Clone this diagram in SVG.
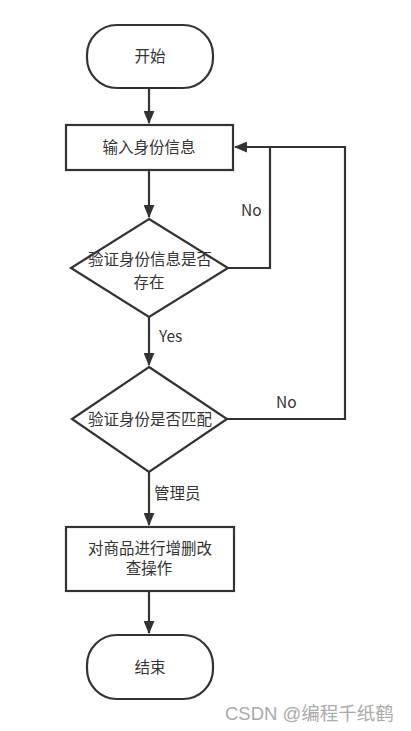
<svg xmlns="http://www.w3.org/2000/svg" width="411" height="731" viewBox="0 0 411 731">
<style>
.shape{fill:#fff;stroke:#333;stroke-width:2.2}
.line{fill:none;stroke:#333;stroke-width:2.2}
text{font-family:"Noto Sans CJK SC","Liberation Sans",sans-serif;font-size:15.5px;fill:#333;text-anchor:middle}
.lbl{text-anchor:start}
.wm{font-family:"Liberation Sans","Noto Sans CJK SC",sans-serif;font-size:18.5px;fill:#aaa;text-anchor:start}
</style>
<defs>
<marker id="arr" viewBox="0 0 12 10" refX="11" refY="5" markerWidth="13" markerHeight="11" markerUnits="userSpaceOnUse" orient="auto">
<path d="M0,0 L12,5 L0,10 Z" fill="#333"/>
</marker>
</defs>
<rect width="411" height="731" fill="#fff"/>
<g id="connectors">
<path class="line" d="M149,88 V123" marker-end="url(#arr)"/>
<path class="line" d="M149,170 V217" marker-end="url(#arr)"/>
<path class="line" d="M149,317 V365" marker-end="url(#arr)"/>
<path class="line" d="M149,472 V525" marker-end="url(#arr)"/>
<path class="line" d="M149,591 V633" marker-end="url(#arr)"/>
<path class="line" d="M228,268 H270 V147 H235" marker-end="url(#arr)"/>
<path class="line" d="M227,419 H345 V147 H270"/>
<text class="lbl" x="241" y="216">No</text>
<text class="lbl" x="276" y="408">No</text>
<text class="lbl" x="159" y="342">Yes</text>
<text class="lbl" x="154" y="499">管理员</text>
</g>
<g id="start">
<rect class="shape" x="87" y="25" width="126" height="63" rx="30" ry="30"/>
<text x="150" y="62">开始</text>
</g>
<g id="input">
<rect class="shape" x="66" y="125" width="167" height="45"/>
<text x="149" y="153">输入身份信息</text>
</g>
<g id="check-exist">
<path class="shape" d="M149,219 L228,268 L149,317 L71,268 Z"/>
<text x="150" y="265">验证身份信息是否</text>
<text x="149" y="288">存在</text>
</g>
<g id="check-match">
<path class="shape" d="M149,367 L227,419 L149,472 L72,419 Z"/>
<text x="150" y="425">验证身份是否匹配</text>
</g>
<g id="crud">
<rect class="shape" x="66" y="527" width="168" height="64"/>
<text x="150" y="554">对商品进行增删改</text>
<text x="149" y="574">查操作</text>
</g>
<g id="end">
<rect class="shape" x="87" y="635" width="126" height="64" rx="30" ry="30"/>
<text x="150" y="673">结束</text>
</g>
<text class="wm" x="225" y="720">CSDN @编程千纸鹤</text>
</svg>
